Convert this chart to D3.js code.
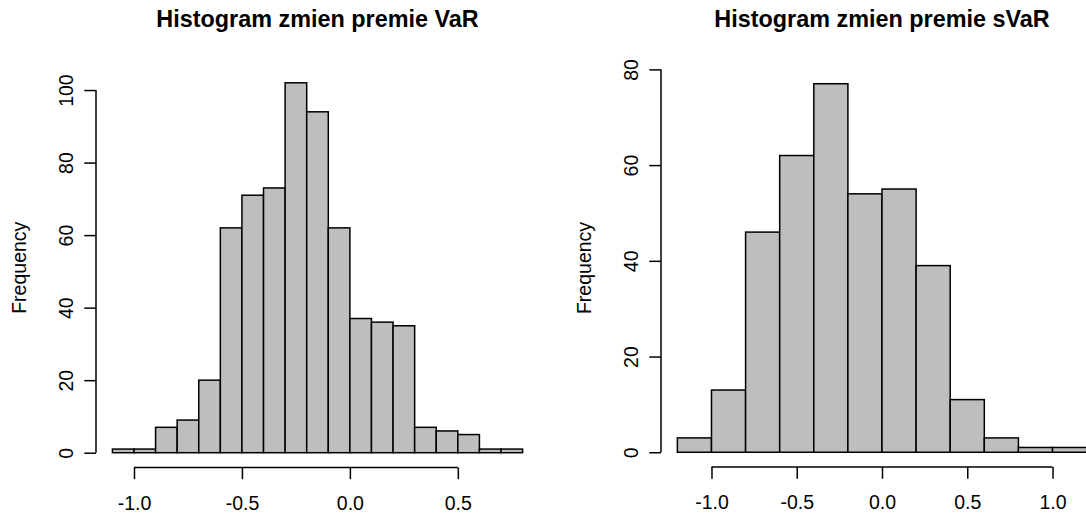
<html>
  <head>
    <title>Histogram zmien premie</title>
    <style>
      body { margin: 0; background: #fff; }
      text { font-family: "Liberation Sans", Arial, sans-serif; fill: #000; }
    </style>
  </head>
  <body>
    <svg id="chart" width="1086" height="517"></svg>

    <script type="text/javascript" src="https://cdn.jsdelivr.net/npm/d3@7"></script>
    <script type="text/javascript">
      // data
      var varTitle = 'Histogram zmien premie VaR';
      var varBreaks = [-1.1, -1.0, -0.9, -0.8, -0.7, -0.6, -0.5, -0.4, -0.3, -0.2, -0.1, 0.0, 0.1, 0.2, 0.3, 0.4, 0.5, 0.6, 0.7, 0.8];
      var varCounts = [1, 1, 7, 9, 20, 62, 71, 73, 102, 94, 62, 37, 36, 35, 7, 6, 5, 1, 1];
      var varXTicks = [-1.0, -0.5, 0.0, 0.5];
      var varYTicks = [0, 20, 40, 60, 80, 100];

      var svarTitle = 'Histogram zmien premie sVaR';
      var svarBreaks = [-1.2, -1.0, -0.8, -0.6, -0.4, -0.2, 0.0, 0.2, 0.4, 0.6, 0.8, 1.0, 1.2];
      var svarCounts = [3, 13, 46, 62, 77, 54, 55, 39, 11, 3, 1, 1];
      var svarXTicks = [-1.0, -0.5, 0.0, 0.5, 1.0];
      var svarYTicks = [0, 20, 40, 60, 80];

      var yLabel = 'Frequency';

      var lineH = 23.4;          // one margin line in px
      var fmt = d3.formatLocale({decimal: '.', thousands: ',', grouping: [3], currency: ['', ''], minus: '-'}).format('.1f');
      var svg = d3.select('#chart');

      function pad(ext) {
        var d = (ext[1] - ext[0]) * 0.04;
        return [ext[0] - d, ext[1] + d];
      }

      function histogram(opt) {
        var x = d3.scaleLinear().domain(pad(d3.extent(opt.breaks))).range([opt.left, opt.right]);
        var y = d3.scaleLinear().domain(pad([0, d3.max(opt.counts)])).range([opt.bottom, opt.top]);
        var g = svg.append('g');

        var bins = opt.counts.map(function (c, i) {
          return {x0: opt.breaks[i], x1: opt.breaks[i + 1], n: c};
        });

        g.selectAll('rect').data(bins).enter().append('rect')
          .attr('x', function (d) { return x(d.x0); })
          .attr('y', function (d) { return y(d.n); })
          .attr('width', function (d) { return x(d.x1) - x(d.x0); })
          .attr('height', function (d) { return y(0) - y(d.n); })
          .style('fill', '#bebebe')
          .style('stroke', '#000')
          .style('stroke-width', 1.5);

        // x axis, only between first and last tick like R does
        var ax = g.append('g')
          .attr('transform', 'translate(0,' + opt.bottom + ')')
          .call(d3.axisBottom(x).tickValues(opt.xTicks).tickFormat(fmt).tickSize(lineH * 0.5).tickPadding(0));
        ax.select('.domain').remove();
        ax.append('line')
          .attr('x1', x(opt.xTicks[0])).attr('x2', x(opt.xTicks[opt.xTicks.length - 1]))
          .attr('stroke', '#000').attr('stroke-width', 1.5);
        ax.selectAll('.tick line').attr('stroke-width', 1.5);
        ax.selectAll('.tick text')
          .attr('dy', null)
          .attr('y', lineH * 1.8)
          .style('font-size', '19.5px')
          .style('font-family', '"Liberation Sans", Arial, sans-serif');

        // y axis, labels parallel to axis
        var ay = g.append('g')
          .attr('transform', 'translate(' + opt.left + ',0)')
          .call(d3.axisLeft(y).tickValues(opt.yTicks).tickFormat(d3.format('d')).tickSize(lineH * 0.5));
        ay.select('.domain').remove();
        ay.append('line')
          .attr('y1', y(opt.yTicks[0])).attr('y2', y(opt.yTicks[opt.yTicks.length - 1]))
          .attr('stroke', '#000').attr('stroke-width', 1.5);
        ay.selectAll('.tick line').attr('stroke-width', 1.5);
        ay.selectAll('.tick text')
          .attr('x', null).attr('dy', null)
          .attr('text-anchor', 'middle')
          .attr('transform', 'translate(' + (-lineH) + ',0) rotate(-90)')
          .style('font-size', '19.5px')
          .style('font-family', '"Liberation Sans", Arial, sans-serif');

        g.append('text')
          .attr('transform', 'translate(' + (opt.left - lineH * 3) + ',' + (opt.top + opt.bottom) / 2 + ') rotate(-90)')
          .attr('text-anchor', 'middle')
          .style('font-size', '19.5px')
          .text(yLabel);

        g.append('text')
          .attr('x', (opt.left + opt.right) / 2)
          .attr('y', 27)
          .attr('text-anchor', 'middle')
          .style('font-size', '23.4px')
          .style('font-weight', 'bold')
          .text(opt.title);
      }

      histogram({title: varTitle, breaks: varBreaks, counts: varCounts, xTicks: varXTicks, yTicks: varYTicks,
                 left: 96, right: 539, top: 68, bottom: 467.5});
      histogram({title: svarTitle, breaks: svarBreaks, counts: svarCounts, xTicks: svarXTicks, yTicks: svarYTicks,
                 left: 661, right: 1103, top: 69, bottom: 467});
    </script>
  </body>
</html>
